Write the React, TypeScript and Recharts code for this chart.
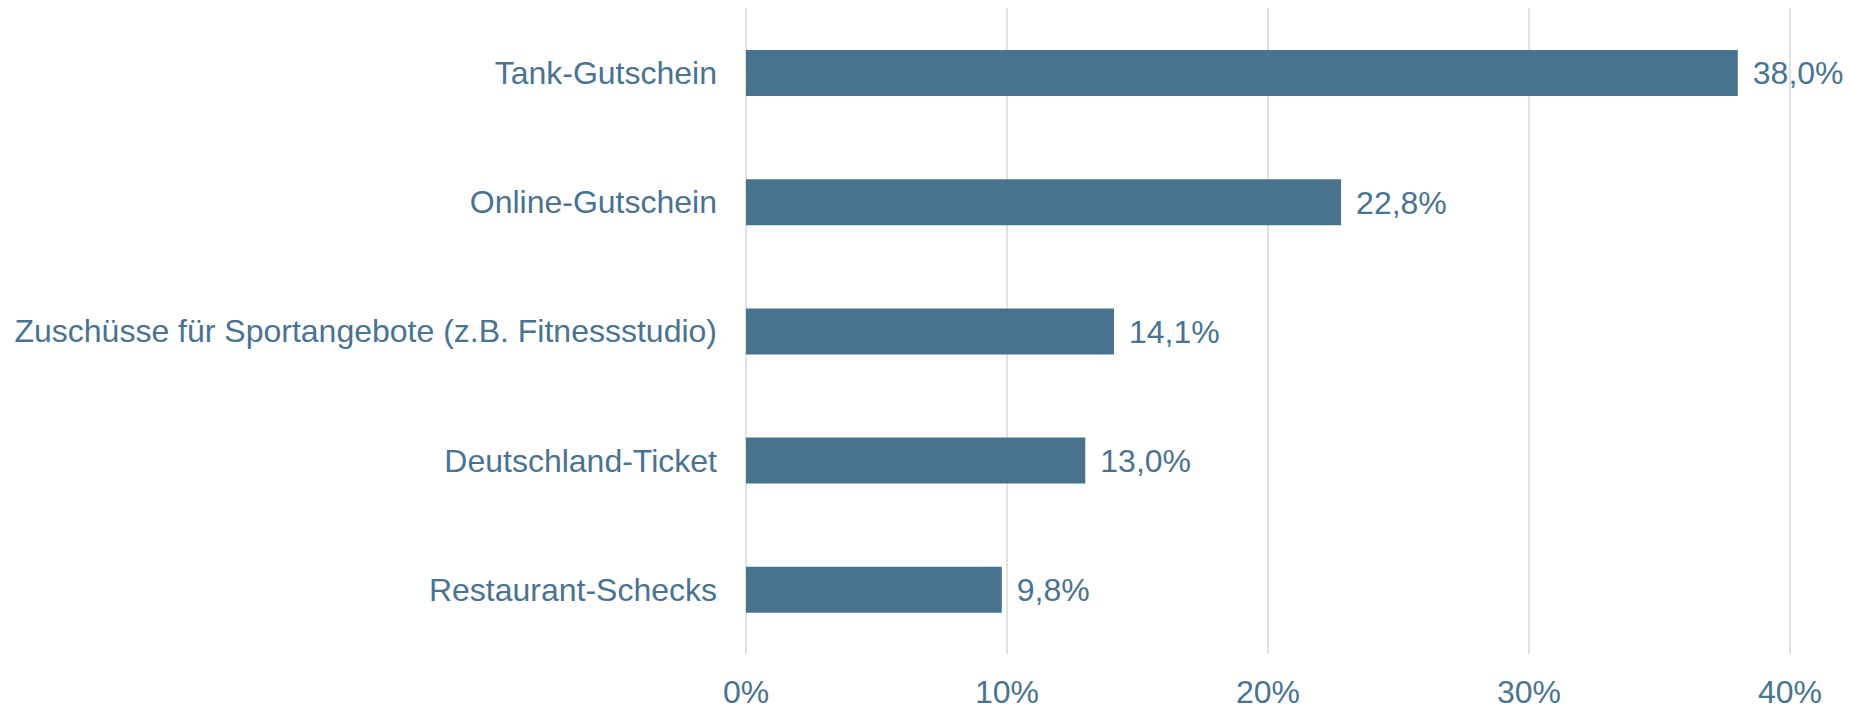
import React from "react";
import { BarChart, Bar, XAxis, YAxis, CartesianGrid, LabelList } from "recharts";

const categories = [
  "Tank-Gutschein",
  "Online-Gutschein",
  "Zuschüsse für Sportangebote (z.B. Fitnessstudio)",
  "Deutschland-Ticket",
  "Restaurant-Schecks",
];
const values = [38.0, 22.8, 14.1, 13.0, 9.8];
const xTicks = [0, 10, 20, 30, 40];

const data = categories.map((name, i) => ({ name, value: values[i] }));

const COLOR = "#48738F";
const TEXT = "#4A7392";
const FONT = "'Liberation Sans', Arial, sans-serif";
const FS = 32;

export default function App() {
  return (
    <div style={{ position: "absolute", top: 0, left: 0, width: 1849, height: 709 }}>
      <BarChart
        width={1849}
        height={709}
        data={data}
        layout="vertical"
        margin={{ top: 8, right: 59, bottom: 0, left: 0 }}
      >
        <CartesianGrid horizontal={false} vertical={true} stroke="#d9d9d9" strokeWidth={1.5} />
        <XAxis
          type="number"
          domain={[0, 40]}
          ticks={xTicks}
          tickFormatter={(v: number) => `${v}%`}
          axisLine={false}
          tickLine={false}
          tickSize={0}
          tickMargin={26}
          height={55}
          tick={{ fill: TEXT, fontSize: FS, fontFamily: FONT }}
          interval={0}
        />
        <YAxis
          type="category"
          dataKey="name"
          width={746}
          axisLine={false}
          tickLine={false}
          tickSize={0}
          tickMargin={29}
          tick={{ fill: TEXT, fontSize: FS, fontFamily: FONT }}
          interval={0}
        />
        <Bar dataKey="value" fill={COLOR} barSize={46} isAnimationActive={false}>
          <LabelList
            dataKey="value"
            position="right"
            offset={15}
            formatter={(v: number) => `${v.toFixed(1).replace(".", ",")}%`}
            style={{ fill: TEXT, fontSize: FS, fontFamily: FONT }}
          />
        </Bar>
      </BarChart>
    </div>
  );
}
